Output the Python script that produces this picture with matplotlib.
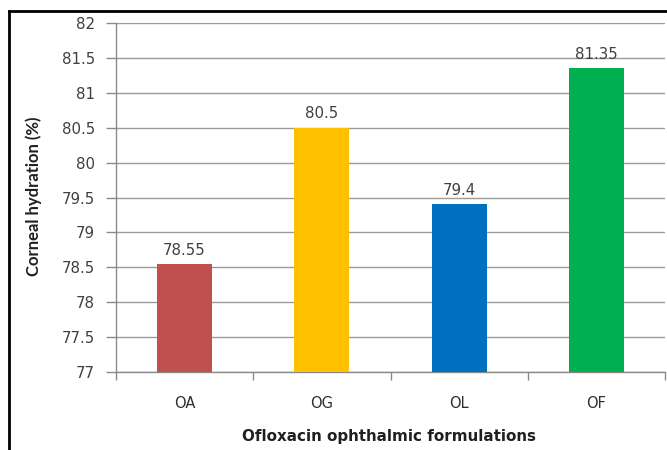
import matplotlib
matplotlib.use("Agg")
import matplotlib.pyplot as plt
from matplotlib.lines import Line2D
from matplotlib import patheffects as pe

# Data
formulations = ["OA", "OG", "OL", "OF"]
hydration = [78.55, 80.5, 79.4, 81.35]
value_labels = ["78.55", "80.5", "79.4", "81.35"]
bar_colors = ["#C0504D", "#FFC000", "#0070C0", "#00B050"]
y_ticks = [77, 77.5, 78, 78.5, 79, 79.5, 80, 80.5, 81, 81.5, 82]
y_tick_labels = ["77", "77.5", "78", "78.5", "79", "79.5", "80", "80.5", "81", "81.5", "82"]

W, H = 667, 450
fig = plt.figure(figsize=(W / 100, H / 100), dpi=100)
fig.patch.set_facecolor("white")

# Plot area in pixel coordinates
left, right, top, bottom = 116, 665, 23, 372
ax = fig.add_axes([left / W, 1 - bottom / H, (right - left) / W, (bottom - top) / H])

base = 77
x = range(len(formulations))
bars = ax.bar(x, [v - base for v in hydration], bottom=base, width=0.4,
              color=bar_colors, zorder=3, edgecolor="none")
for b in bars:
    b.set_path_effects([pe.SimplePatchShadow(offset=(0, 0), shadow_rgbFace="#bbbbbb", alpha=0.6),
                        pe.Normal()])

for xi, v, lab in zip(x, hydration, value_labels):
    ax.annotate(lab, (xi, v), xytext=(0, 4.5), textcoords="offset points",
                ha="center", va="bottom", fontsize=10.8, color="#404040",
                family="DejaVu Sans", zorder=4)

ax.set_xlim(-0.5, len(formulations) - 0.5)
ax.set_ylim(77, 82)
ax.set_yticks(y_ticks)
ax.set_yticklabels(y_tick_labels, fontsize=10.8, color="#404040", family="DejaVu Sans")
ax.yaxis.grid(True, color="#9a9a9a", linewidth=1.0, zorder=0)
ax.set_axisbelow(True)

# Category boundary ticks on x axis, labels centered under bars
ax.set_xticks([i - 0.5 for i in range(len(formulations) + 1)])
ax.set_xticklabels([])
ax.set_xticks(list(x), minor=True)
ax.set_xticklabels(formulations, minor=True, fontsize=10.5, color="#303030",
                   family="DejaVu Sans")
ax.tick_params(axis="x", which="major", length=6, color="#8a8a8a", width=1)
ax.tick_params(axis="x", which="minor", length=0, pad=17)
ax.tick_params(axis="y", length=7, color="#8a8a8a", width=1, pad=8)

for s in ["top", "right"]:
    ax.spines[s].set_visible(False)
for s in ["left", "bottom"]:
    ax.spines[s].set_color("#8a8a8a")
    ax.spines[s].set_linewidth(1)

fig.text(34 / W, 1 - 196 / H, "Corneal hydration (%)", rotation=90, ha="center",
         va="center", fontsize=12, color="#202020", family="Lato", fontweight="bold")
fig.text(389 / W, 1 - 437 / H, "Ofloxacin ophthalmic formulations", ha="center",
         va="center", fontsize=10.9, color="#202020", family="DejaVu Sans",
         fontweight="bold")

# Outer frame (top and left edges)
fig.add_artist(Line2D([9 / W, 1.0], [1 - 11 / H, 1 - 11 / H], color="black",
                      linewidth=2, transform=fig.transFigure))
fig.add_artist(Line2D([9 / W, 9 / W], [0, 1 - 11 / H], color="black",
                      linewidth=2, transform=fig.transFigure))

fig.savefig("out.png", dpi=100)
